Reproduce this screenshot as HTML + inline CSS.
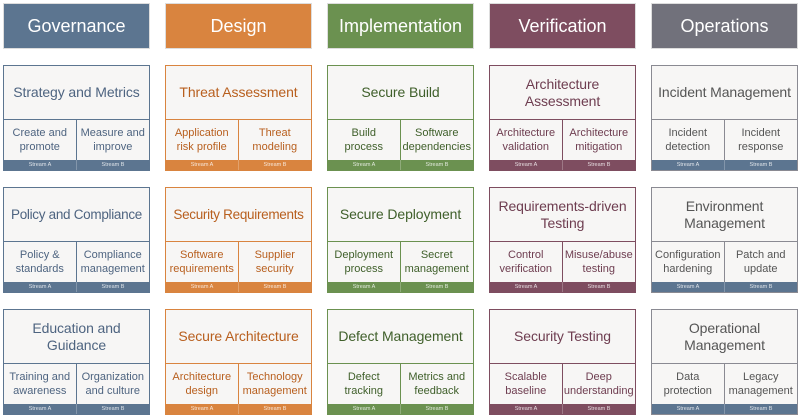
<!DOCTYPE html>
<html><head><meta charset="utf-8"><style>
body{margin:0;width:800px;height:416px;background:#fff;font-family:"Liberation Sans",sans-serif;position:relative;overflow:hidden}
.h{position:absolute;top:3px;width:147px;height:46px;color:#fff;font-size:18px;display:flex;align-items:center;justify-content:center;box-sizing:border-box;border:1px solid #ddd}
.c{position:absolute;width:147px;height:106px;box-sizing:border-box;border:1px solid;background:#f7f6f5}
.t{position:absolute;left:0;right:0;top:0;height:53px;display:flex;align-items:center;justify-content:center;text-align:center;font-size:14px;line-height:17px;border-bottom:1px solid;padding:0 2px;white-space:nowrap;letter-spacing:-0.1px}
.s{position:absolute;top:53px;height:42px;width:50%;display:flex;align-items:center;justify-content:center;text-align:center;font-size:11px;line-height:14px;box-sizing:border-box;white-space:nowrap}
.s.a{left:0;border-right:1px solid}.s.b{right:0}
.bar{position:absolute;left:0;right:0;bottom:0;height:10px;display:flex;color:#fff;font-size:5.5px}
.bar div{flex:1;display:flex;align-items:center;justify-content:center;opacity:.8}
.bar div:first-child{border-right:1px solid rgba(255,255,255,.3)}
.g{border-color:#5c7590;color:#4e6480}.g .t,.g .s{border-color:#5c7590}.g .bar{background:#5c7590}
.d{border-color:#d9843f;color:#b85f1e}.d .t,.d .s{border-color:#d9843f}.d .bar{background:#d9843f}
.i{border-color:#6b9150;color:#3f5f2a}.i .t,.i .s{border-color:#6b9150}.i .bar{background:#6b9150}
.v{border-color:#7e4d60;color:#6e3d50}.v .t,.v .s{border-color:#7e4d60}.v .bar{background:#7e4d60}
.o{border-color:#8a8a92;color:#555}.o .t,.o .s{border-color:#8a8a92}.o .bar{background:#5c7590}
</style></head><body>
<div class="h" style="left:3px;background:#5c7590">Governance</div>
<div class="h" style="left:165px;background:#d9843f">Design</div>
<div class="h" style="left:327px;background:#6b9150">Implementation</div>
<div class="h" style="left:489px;background:#7e4d60">Verification</div>
<div class="h" style="left:651px;background:#71717b">Operations</div>

<div class="c g" style="left:3px;top:65px"><div class="t">Strategy and Metrics</div><div class="s a">Create and<br>promote</div><div class="s b">Measure and<br>improve</div><div class="bar"><div>Stream A</div><div>Stream B</div></div></div>
<div class="c d" style="left:165px;top:65px"><div class="t">Threat Assessment</div><div class="s a">Application<br>risk profile</div><div class="s b">Threat<br>modeling</div><div class="bar"><div>Stream A</div><div>Stream B</div></div></div>
<div class="c i" style="left:327px;top:65px"><div class="t">Secure Build</div><div class="s a">Build<br>process</div><div class="s b">Software<br>dependencies</div><div class="bar"><div>Stream A</div><div>Stream B</div></div></div>
<div class="c v" style="left:489px;top:65px"><div class="t">Architecture<br>Assessment</div><div class="s a">Architecture<br>validation</div><div class="s b">Architecture<br>mitigation</div><div class="bar"><div>Stream A</div><div>Stream B</div></div></div>
<div class="c o" style="left:651px;top:65px"><div class="t">Incident Management</div><div class="s a">Incident<br>detection</div><div class="s b">Incident<br>response</div><div class="bar"><div>Stream A</div><div>Stream B</div></div></div>

<div class="c g" style="left:3px;top:187px"><div class="t" style="font-size:13.5px;letter-spacing:-0.3px">Policy and Compliance</div><div class="s a">Policy &amp;<br>standards</div><div class="s b">Compliance<br>management</div><div class="bar"><div>Stream A</div><div>Stream B</div></div></div>
<div class="c d" style="left:165px;top:187px"><div class="t" style="font-size:13.5px;letter-spacing:-0.3px">Security Requirements</div><div class="s a">Software<br>requirements</div><div class="s b">Supplier<br>security</div><div class="bar"><div>Stream A</div><div>Stream B</div></div></div>
<div class="c i" style="left:327px;top:187px"><div class="t">Secure Deployment</div><div class="s a">Deployment<br>process</div><div class="s b">Secret<br>management</div><div class="bar"><div>Stream A</div><div>Stream B</div></div></div>
<div class="c v" style="left:489px;top:187px"><div class="t">Requirements-driven<br>Testing</div><div class="s a">Control<br>verification</div><div class="s b">Misuse/abuse<br>testing</div><div class="bar"><div>Stream A</div><div>Stream B</div></div></div>
<div class="c o" style="left:651px;top:187px"><div class="t">Environment<br>Management</div><div class="s a">Configuration<br>hardening</div><div class="s b">Patch and<br>update</div><div class="bar"><div>Stream A</div><div>Stream B</div></div></div>

<div class="c g" style="left:3px;top:309px"><div class="t">Education and<br>Guidance</div><div class="s a">Training and<br>awareness</div><div class="s b">Organization<br>and culture</div><div class="bar"><div>Stream A</div><div>Stream B</div></div></div>
<div class="c d" style="left:165px;top:309px"><div class="t">Secure Architecture</div><div class="s a">Architecture<br>design</div><div class="s b">Technology<br>management</div><div class="bar"><div>Stream A</div><div>Stream B</div></div></div>
<div class="c i" style="left:327px;top:309px"><div class="t">Defect Management</div><div class="s a">Defect<br>tracking</div><div class="s b">Metrics and<br>feedback</div><div class="bar"><div>Stream A</div><div>Stream B</div></div></div>
<div class="c v" style="left:489px;top:309px"><div class="t">Security Testing</div><div class="s a">Scalable<br>baseline</div><div class="s b">Deep<br>understanding</div><div class="bar"><div>Stream A</div><div>Stream B</div></div></div>
<div class="c o" style="left:651px;top:309px"><div class="t">Operational<br>Management</div><div class="s a">Data<br>protection</div><div class="s b">Legacy<br>management</div><div class="bar"><div>Stream A</div><div>Stream B</div></div></div>
</body></html>
